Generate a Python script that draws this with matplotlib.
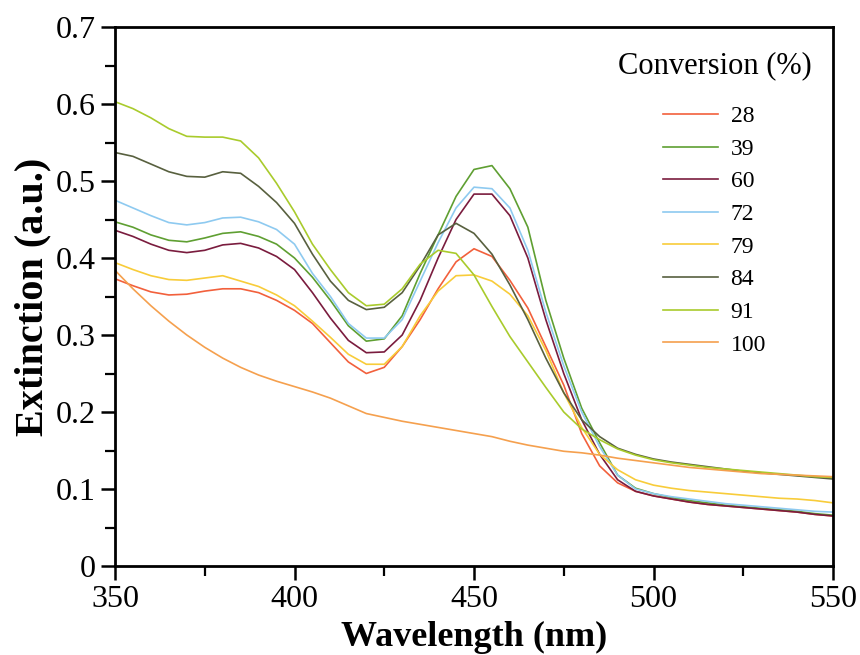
import matplotlib
matplotlib.use("Agg")
import matplotlib.pyplot as plt
import numpy as np
from matplotlib.ticker import MultipleLocator, FuncFormatter

wavelength = [350, 355, 360, 365, 370, 375, 380, 385, 390, 395, 400, 405, 410, 415, 420,
              425, 430, 435, 440, 445, 450, 455, 460, 465, 470, 475, 480, 485, 490, 495,
              500, 505, 510, 515, 520, 525, 530, 535, 540, 545, 550]

conv_labels = ["28", "39", "60", "72", "79", "84", "91", "100"]

ext_28 = [0.373, 0.364, 0.356, 0.352, 0.353, 0.357, 0.360, 0.360, 0.355, 0.345, 0.332, 0.315,
          0.290, 0.265, 0.250, 0.258, 0.285, 0.320, 0.360, 0.395, 0.412, 0.402, 0.371, 0.335,
          0.285, 0.235, 0.172, 0.130, 0.108, 0.097, 0.091, 0.087, 0.083, 0.080, 0.078, 0.076,
          0.074, 0.072, 0.070, 0.067, 0.065]
ext_39 = [0.447, 0.440, 0.430, 0.423, 0.421, 0.426, 0.432, 0.434, 0.428, 0.418, 0.400, 0.375,
          0.345, 0.312, 0.292, 0.295, 0.325, 0.380, 0.430, 0.480, 0.515, 0.520, 0.490, 0.440,
          0.345, 0.270, 0.205, 0.160, 0.118, 0.101, 0.094, 0.089, 0.085, 0.082, 0.079, 0.077,
          0.075, 0.073, 0.071, 0.068, 0.066]
ext_60 = [0.436, 0.428, 0.418, 0.410, 0.407, 0.410, 0.417, 0.419, 0.413, 0.402, 0.385, 0.355,
          0.322, 0.293, 0.277, 0.278, 0.300, 0.345, 0.400, 0.450, 0.483, 0.483, 0.455, 0.400,
          0.320, 0.250, 0.190, 0.145, 0.112, 0.097, 0.091, 0.087, 0.083, 0.080, 0.078, 0.076,
          0.074, 0.072, 0.070, 0.067, 0.065]
ext_72 = [0.475, 0.465, 0.455, 0.446, 0.443, 0.446, 0.452, 0.453, 0.447, 0.437, 0.418, 0.380,
          0.350, 0.315, 0.296, 0.296, 0.320, 0.370, 0.420, 0.465, 0.492, 0.490, 0.465, 0.410,
          0.330, 0.260, 0.200, 0.155, 0.118, 0.100, 0.094, 0.090, 0.087, 0.084, 0.081, 0.079,
          0.077, 0.075, 0.073, 0.071, 0.070]
ext_79 = [0.394, 0.385, 0.377, 0.372, 0.371, 0.374, 0.377, 0.370, 0.363, 0.352, 0.338, 0.318,
          0.297, 0.275, 0.262, 0.262, 0.285, 0.325, 0.357, 0.377, 0.378, 0.370, 0.353, 0.325,
          0.280, 0.225, 0.180, 0.145, 0.125, 0.112, 0.105, 0.101, 0.098, 0.096, 0.094, 0.092,
          0.090, 0.088, 0.087, 0.085, 0.082]
ext_84 = [0.537, 0.532, 0.522, 0.512, 0.506, 0.505, 0.512, 0.510, 0.493, 0.472, 0.445, 0.405,
          0.370, 0.345, 0.333, 0.336, 0.355, 0.390, 0.430, 0.445, 0.432, 0.405, 0.365, 0.320,
          0.270, 0.225, 0.190, 0.168, 0.153, 0.145, 0.139, 0.135, 0.132, 0.129, 0.126, 0.123,
          0.121, 0.119, 0.117, 0.115, 0.113]
ext_91 = [0.603, 0.594, 0.582, 0.568, 0.558, 0.557, 0.557, 0.552, 0.530, 0.497, 0.460, 0.418,
          0.385, 0.355, 0.338, 0.340, 0.360, 0.392, 0.410, 0.406, 0.378, 0.337, 0.298, 0.265,
          0.232, 0.200, 0.178, 0.164, 0.152, 0.144, 0.138, 0.134, 0.131, 0.128, 0.126, 0.124,
          0.122, 0.120, 0.118, 0.116, 0.115]
ext_100 = [0.384, 0.360, 0.338, 0.318, 0.300, 0.284, 0.270, 0.258, 0.248, 0.240, 0.233, 0.226,
           0.218, 0.208, 0.198, 0.193, 0.188, 0.184, 0.180, 0.176, 0.172, 0.168, 0.162, 0.157,
           0.153, 0.149, 0.147, 0.144, 0.140, 0.137, 0.134, 0.131, 0.128, 0.126, 0.124, 0.122,
           0.120, 0.119, 0.118, 0.117, 0.116]

series = [ext_28, ext_39, ext_60, ext_72, ext_79, ext_84, ext_91, ext_100]
colors = ["#f2603c", "#5f9f32", "#7a1c3e", "#8ecaf0", "#f8cc3a", "#58603f", "#a9cb2c", "#f5a04e"]

plt.rcParams['font.family'] = ['Liberation Serif', 'DejaVu Serif']

fig = plt.figure(figsize=(8.6, 6.55), dpi=100)
ax = fig.add_axes([115/860, 89/655, 718/860, 539/655])

for vals, lab, c in zip(series, conv_labels, colors):
    ax.plot(wavelength, vals, color=c, lw=1.2, label=lab)

ax.set_xlim(350, 550)
ax.set_ylim(0, 0.7)
ax.xaxis.set_major_locator(MultipleLocator(50))
ax.xaxis.set_minor_locator(MultipleLocator(25))
ax.yaxis.set_major_locator(MultipleLocator(0.1))
ax.yaxis.set_minor_locator(MultipleLocator(0.05))
ax.tick_params(which='major', direction='out', length=10, width=1.8, labelsize=23, pad=4)
ax.tick_params(which='minor', direction='out', length=7, width=1.6)
ax.tick_params(top=False, right=False)
ax.yaxis.set_major_formatter(FuncFormatter(lambda v, p: "0" if abs(v) < 1e-9 else f"{v:.1f}"))
for s in ax.spines.values():
    s.set_linewidth(2)

ax.set_xlabel("Wavelength (nm)", fontsize=26, fontweight='bold', labelpad=5)
ax.set_ylabel("Extinction (a.u.)", fontsize=29, fontweight='bold', labelpad=3)

leg = ax.legend(loc='upper right', bbox_to_anchor=(0.993, 0.985), frameon=False,
                title="Conversion (%)", title_fontsize=22, fontsize=17,
                handlelength=2.3, handletextpad=0.55, labelspacing=0.47,
                borderaxespad=0.3)
leg._legend_box.sep = 18

fig.savefig("out.png", dpi=100)
